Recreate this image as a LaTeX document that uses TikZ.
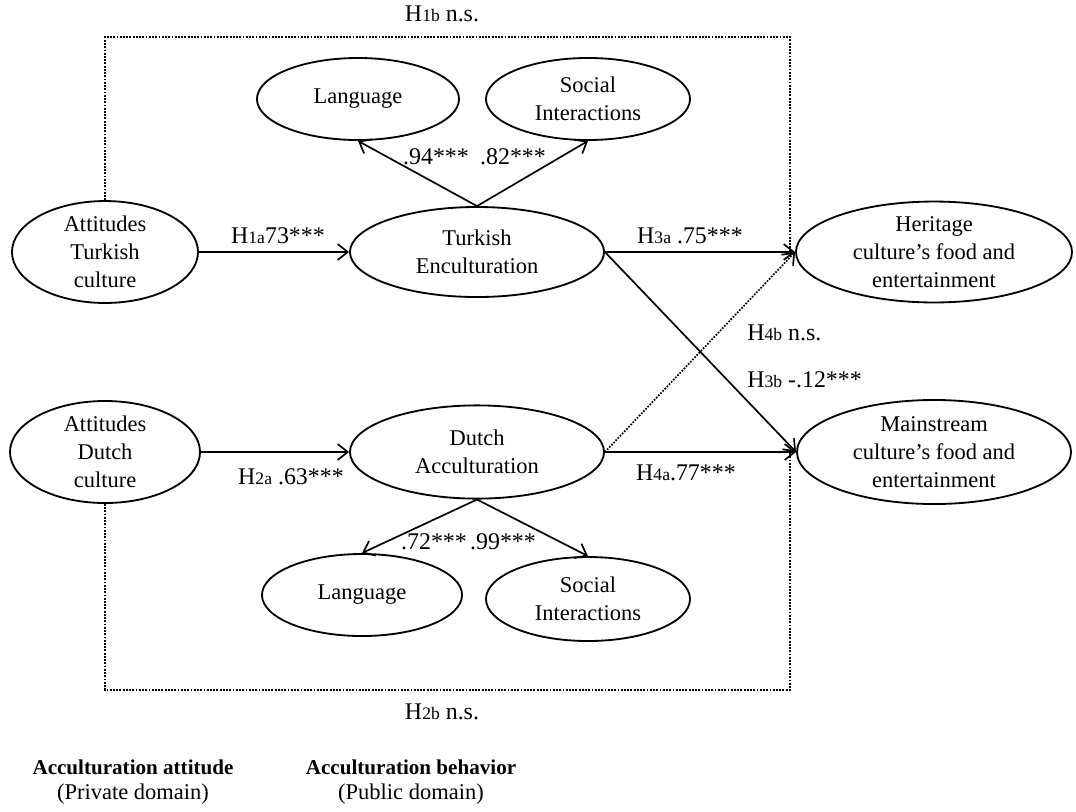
\documentclass[tikz,border=0pt]{standalone}
\usepackage{fontspec}
\setmainfont{Liberation Serif}
\usetikzlibrary{shapes.geometric,arrows.meta}
\newcommand{\hypsub}[1]{{\fontsize{12.5}{14}\selectfont #1}}

\begin{document}
\begin{tikzpicture}[x=0.025cm,y=-0.025cm,
  every node/.style={font=\fontsize{16}{20}\selectfont},
  latent/.style={ellipse,draw,line width=1.3pt,inner sep=0pt,align=center},
  arrowpath/.style={-{Straight Barb[length=2.5mm,width=4mm]},line width=1.2pt},
  nspath/.style={arrowpath,densely dotted},
  border/.style={line width=1.3pt,densely dotted},
  coef/.style={font=\fontsize{17}{20}\selectfont},
  domainlbl/.style={font=\fontsize{15}{18}\selectfont\bfseries}]
\useasboundingbox (0,0) rectangle (1076,811);
\node[latent,minimum width=4.65cm,minimum height=2.4cm] (attT) at (105,252) {Attitudes\\Turkish\\culture};
\node[latent,minimum width=6.35cm,minimum height=2.25cm] (turkEnc) at (477,252) {Turkish\\Enculturation};
\node[latent,minimum width=5.05cm,minimum height=2.05cm] (langT) at (358,99) {Language};
\node[latent,minimum width=5.1cm,minimum height=2.05cm] (socT) at (588,99) {Social\\Interactions};
\node[latent,minimum width=6.9cm,minimum height=2.5cm] (herit) at (934,252) {Heritage\\culture's food and\\entertainment};
\node[latent,minimum width=4.75cm,minimum height=2.55cm] (attD) at (105,452) {Attitudes\\Dutch\\culture};
\node[latent,minimum width=6.35cm,minimum height=2.33cm] (dutchAcc) at (477,452) {Dutch\\Acculturation};
\node[latent,minimum width=6.85cm,minimum height=2.6cm] (mainS) at (934,452) {Mainstream\\culture's food and\\entertainment};
\node[latent,minimum width=5cm,minimum height=2.05cm] (langD) at (362,595) {Language};
\node[latent,minimum width=5.1cm,minimum height=2.1cm] (socD) at (588,599) {Social\\Interactions};
\coordinate (boxTR) at (790,37);
\coordinate (boxBR) at (790,690);
\draw[border] (attT.north) |- (boxTR) -- (boxTR |- herit.west);
\draw[border] (attD.south) |- (boxBR) -- (boxBR |- mainS.west);
\draw[arrowpath] (attT) -- (turkEnc);
\draw[arrowpath] (turkEnc.north) -- (langT.south);
\draw[arrowpath] (turkEnc.north) -- (socT.south);
\draw[arrowpath] (turkEnc.east) -- (herit.west);
\draw[arrowpath] (turkEnc.east) -- (mainS.west);
\draw[arrowpath] (attD) -- (dutchAcc);
\draw[arrowpath] (dutchAcc.south) -- (langD.north);
\draw[arrowpath] (dutchAcc.south) -- (socD.north);
\draw[nspath] (dutchAcc.east) -- (herit.west);
\draw[arrowpath] (dutchAcc.east) -- (mainS.west);
\node[coef] (lblH1b) at (442,14) {H\hypsub{1b} n.s.};
\node[coef] (lblH1a) at (278,236) {H\hypsub{1a}73***};
\node[coef] (lblT94) at (436,157) {.94***};
\node[coef] (lblT82) at (513,157) {.82***};
\node[coef] (lblH3a) at (690,236) {H\hypsub{3a} .75***};
\node[coef,anchor=west,inner sep=0pt] (lblH4b) at (747,333) {H\hypsub{4b} n.s.};
\node[coef,anchor=west,inner sep=0pt] (lblH3b) at (747,380) {H\hypsub{3b} -.12***};
\node[coef] (lblH2a) at (291,477) {H\hypsub{2a} .63***};
\node[coef] (lblH4a) at (686,473) {H\hypsub{4a}.77***};
\node[coef] (lblD72) at (434,542) {.72***};
\node[coef] (lblD99) at (503,542) {.99***};
\node[coef] (lblH2b) at (442,712) {H\hypsub{2b} n.s.};
\node[domainlbl] (attitude) at (133,767) {Acculturation attitude};
\node (private) at (133,794) {(Private domain)};
\node[domainlbl] (behavior) at (411,767) {Acculturation behavior};
\node (public) at (411,794) {(Public domain)};
\end{tikzpicture}
\end{document}
